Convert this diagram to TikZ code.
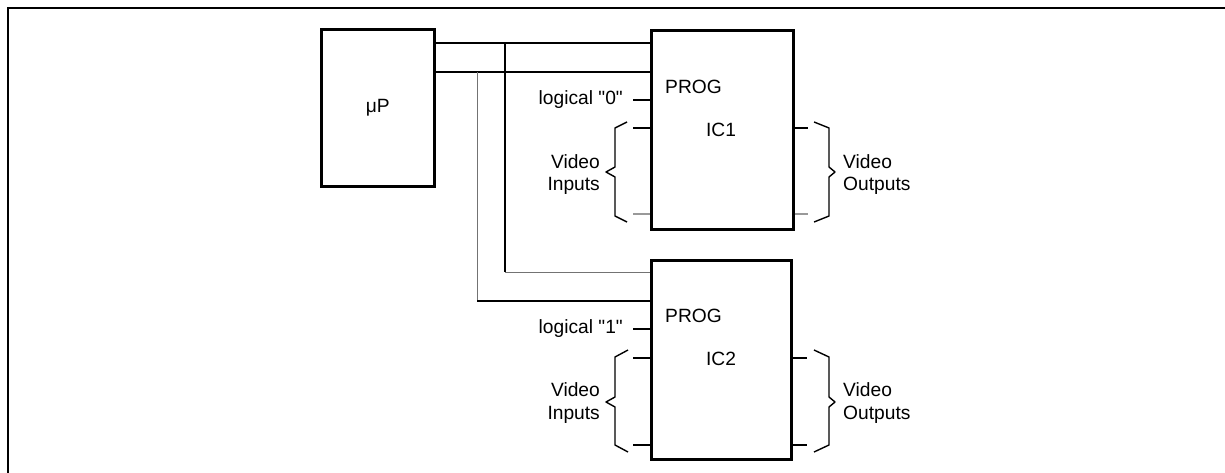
\documentclass[tikz,border=0pt]{standalone}
\usepackage{fontspec}
\newfontfamily\lab{Liberation Sans}
\begin{document}
\begin{tikzpicture}[x=1pt,y=-1pt,
  chip/.style={draw,line width=2.6pt,anchor=north west,inner sep=0pt},
  pin/.style={line width=1.4pt},
  pingray/.style={line width=1.4pt,draw=black!40},
  bus/.style={line width=1.4pt},
  busgray/.style={line width=1pt,draw=black!55},
  brace/.style={line width=1.4pt,line join=round},
  lbl/.style={font=\lab\fontsize{19.2}{23}\selectfont,inner sep=0pt},
  frame/.style={line width=2.6pt}]
\useasboundingbox (0,0) rectangle (1225,473);
\draw[frame] (8,473) -- (8,8) -- (1225,8);
% boxes
\node[chip,minimum width=113pt,minimum height=157pt] (mup) at (320,28) {};
\node[lbl] (muptxt) at (mup.center) {μP};
\node[chip,minimum width=142pt,minimum height=199pt] (ic1) at (650,29) {};
\node[chip,minimum width=140pt,minimum height=199pt] (ic2) at (650,259) {};
% labels inside
\node[lbl,anchor=west] (prog1) at (665,87) {PROG};
\node[lbl] (ic1txt) at (721,130) {IC1};
\node[lbl,anchor=west] (prog2) at (665,316) {PROG};
\node[lbl] (ic2txt) at (721,359) {IC2};
% bus
\coordinate (b1) at (433,43);
\coordinate (b2) at (433,72);
\coordinate (v1t) at (505,43);
\coordinate (v2t) at (477,72);
\draw[bus] (b1) -- (ic1.west |- b1);
\draw[bus] (b2) -- (ic1.west |- b2);
\coordinate (c1) at (505,272);
\coordinate (c2) at (477,301);
\draw[bus] (v1t) -- (c1);
\draw[busgray] (c1) -- (ic2.west |- c1);
\draw[busgray] (v2t) -- (c2);
\draw[bus] (c2) -- (ic2.west |- c2);
% IC1 pins
\coordinate (l0) at (633,100);
\draw[pin] (l0) -- (ic1.west |- l0);
\node[lbl,anchor=east] (log0) at (623,100) {logical "0"};
\coordinate (i1a) at (633,128);
\coordinate (i1b) at (633,214);
\draw[pin] (i1a) -- (ic1.west |- i1a);
\draw[pingray] (i1b) -- (ic1.west |- i1b);
\coordinate (o1a) at (808,128);
\coordinate (o1b) at (808,214);
\draw[pin] (ic1.east |- o1a) -- (o1a);
\draw[pingray] (ic1.east |- o1b) -- (o1b);
\draw[brace] (627,122) -- (615,128) -- (615,167) -- (606,172) -- (615,177) -- (615,216) -- (627,222);
\draw[brace] (814,122) -- (829,128) -- (829,167) -- (835,172) -- (829,177) -- (829,216) -- (814,222);
\node[lbl,anchor=east] (vi1a) at (600,162) {Video};
\node[lbl,anchor=east] (vi1b) at (600,186) {Inputs};
\node[lbl,anchor=west] (vo1a) at (843,162) {Video};
\node[lbl,anchor=west] (vo1b) at (843,186) {Outputs};
% IC2 pins
\coordinate (l1) at (633,329);
\draw[pin] (l1) -- (ic2.west |- l1);
\node[lbl,anchor=east] (log1) at (623,329) {logical "1"};
\coordinate (i2a) at (633,358);
\coordinate (i2b) at (633,445);
\draw[pin] (i2a) -- (ic2.west |- i2a);
\draw[pin] (i2b) -- (ic2.west |- i2b);
\coordinate (o2a) at (807,358);
\coordinate (o2b) at (807,445);
\draw[pin] (ic2.east |- o2a) -- (o2a);
\draw[pin] (ic2.east |- o2b) -- (o2b);
\draw[brace] (628,350) -- (615,357) -- (615,397) -- (606,402) -- (615,407) -- (615,445) -- (628,452);
\draw[brace] (814,350) -- (829,357) -- (829,397) -- (835,402) -- (829,407) -- (829,445) -- (814,452);
\node[lbl,anchor=east] (vi2a) at (600,390) {Video};
\node[lbl,anchor=east] (vi2b) at (600,415) {Inputs};
\node[lbl,anchor=west] (vo2a) at (843,390) {Video};
\node[lbl,anchor=west] (vo2b) at (843,415) {Outputs};
\end{tikzpicture}
\end{document}
